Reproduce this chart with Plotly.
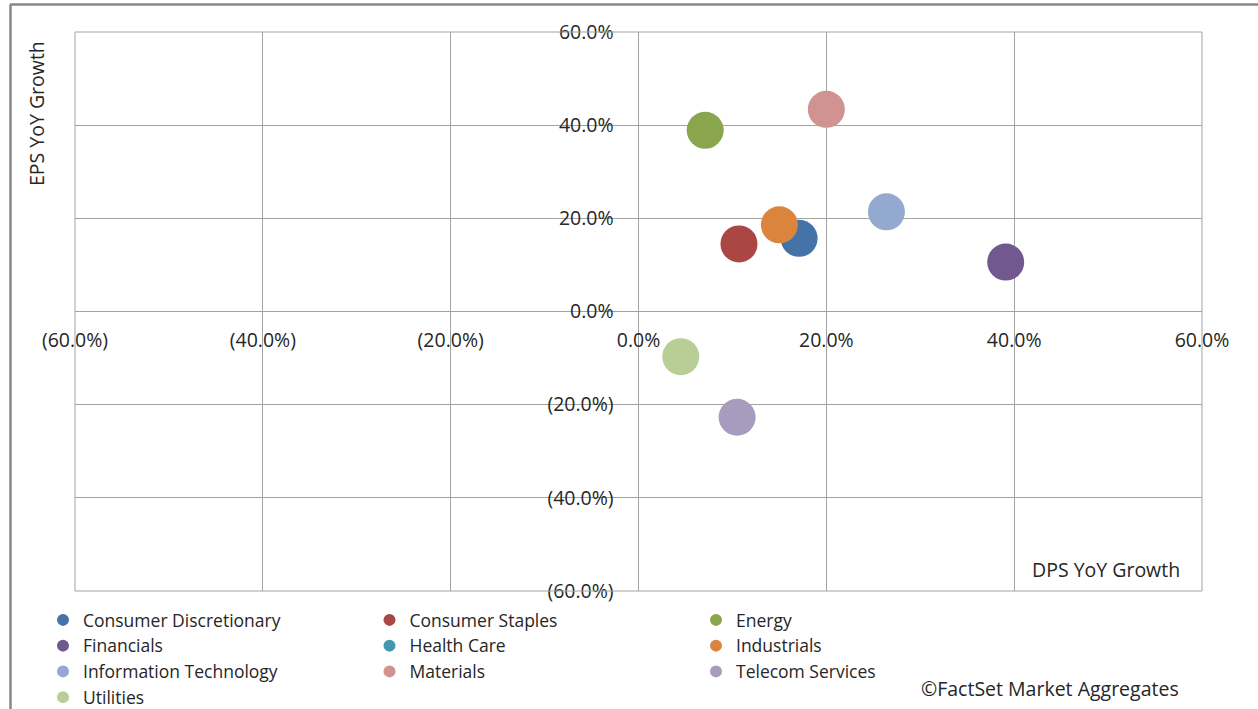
import plotly.graph_objects as go

# Sector growth figures, in percent
sectors = [
    "Consumer Discretionary", "Consumer Staples", "Energy",
    "Financials", "Health Care", "Industrials",
    "Information Technology", "Materials", "Telecom Services",
    "Utilities",
]
dps_growth = [17.1, 10.7, 7.1, 39.1, None, 15.0, 26.4, 20.0, 10.5, 4.5]
eps_growth = [15.7, 14.5, 38.9, 10.6, None, 18.6, 21.4, 43.4, -22.7, -9.7]
sector_colors = [
    "#4572A7", "#AA4643", "#89A54E", "#71588F", "#4198AF",
    "#DB843D", "#93A9CF", "#D19392", "#A99BBD", "#B9CD96",
]

tick_vals = [-60, -40, -20, 0, 20, 40, 60]
tick_text = ["(60.0%)", "(40.0%)", "(20.0%)", "0.0%", "20.0%", "40.0%", "60.0%"]

W, H = 1258, 709
ML, MR, MT, MB = 75, 56, 32, 118
PW, PH = W - ML - MR, H - MT - MB
FONT = "Open Sans"
TXT = "#262626"
GRID = "#a3a3a3"


def px_x(p):
    return (p - ML) / PW


def px_y(p):
    return (H - MB - p) / PH


fig = go.Figure()
for name, x, y, c in zip(sectors, dps_growth, eps_growth, sector_colors):
    fig.add_trace(go.Scatter(
        x=[x], y=[y], name=name, mode="markers",
        marker=dict(size=37, color=c, line=dict(width=0)),
    ))

axis_common = dict(
    range=[-60, 60], tickvals=tick_vals, ticktext=tick_text,
    showgrid=True, gridcolor=GRID, gridwidth=1,
    zeroline=False, showline=False,
    anchor="free", position=0.5,
    ticks="outside", tickcolor="rgba(0,0,0,0)",
    tickfont=dict(family=FONT, size=19.5, color=TXT),
    fixedrange=True,
)
fig.update_xaxes(**axis_common, ticklen=11)
fig.update_yaxes(**axis_common, ticklen=21)

shapes = [
    # plot area frame
    dict(type="rect", xref="paper", yref="paper", x0=0, x1=1, y0=0, y1=1,
         line=dict(color=GRID, width=1)),
    # outer chart frame (top and left edges)
    dict(type="line", xref="paper", yref="paper",
         x0=px_x(10), x1=px_x(W + 5), y0=px_y(4.5), y1=px_y(4.5),
         line=dict(color="#888888", width=2.5)),
    dict(type="line", xref="paper", yref="paper",
         x0=px_x(10.5), x1=px_x(10.5), y0=px_y(4.5), y1=px_y(H + 5),
         line=dict(color="#888888", width=2.5)),
]

ann_font = dict(family=FONT, size=19.5, color=TXT)
annotations = [
    dict(text="EPS YoY Growth", textangle=-90, xref="paper", yref="paper",
         x=px_x(37), y=px_y(114), xanchor="center", yanchor="middle",
         showarrow=False, font=ann_font),
    dict(text="DPS YoY Growth", xref="paper", yref="paper",
         x=px_x(1106), y=px_y(569), xanchor="center", yanchor="middle",
         showarrow=False, font=ann_font),
    dict(text="©FactSet Market Aggregates", xref="paper", yref="paper",
         x=px_x(1050), y=px_y(688), xanchor="center", yanchor="middle",
         showarrow=False, font=ann_font),
]

fig.update_layout(
    width=W, height=H,
    margin=dict(l=ML, r=MR, t=MT, b=MB, autoexpand=False),
    paper_bgcolor="white", plot_bgcolor="white",
    font=dict(family=FONT, size=19, color=TXT),
    showlegend=True,
    legend=dict(
        orientation="h", x=px_x(43), y=px_y(602),
        xanchor="left", yanchor="top",
        entrywidth=281.5, entrywidthmode="pixels",
        itemsizing="constant", traceorder="normal",
        font=dict(family=FONT, size=17.5, color=TXT),
        bgcolor="rgba(0,0,0,0)",
    ),
    shapes=shapes, annotations=annotations,
)

fig.write_html("out.html")
